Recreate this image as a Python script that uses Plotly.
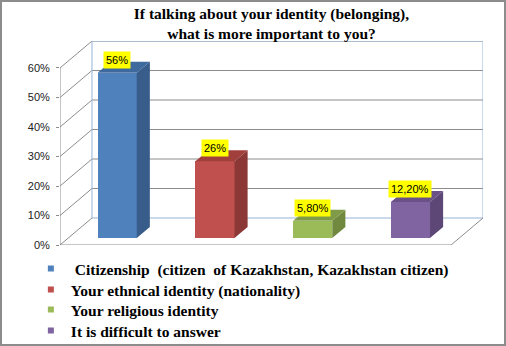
import plotly.graph_objects as go

# ---- data ----
categories = [" Citizenship  (citizen  of Kazakhstan, Kazakhstan citizen)",
              "Your ethnical identity (nationality)",
              "Your religious identity",
              "It is difficult to answer"]
values = [56.0, 26.0, 5.8, 12.2]
value_labels = ["56%", "26%", "5,80%", "12,20%"]
tick_values = [0, 10, 20, 30, 40, 50, 60]
tick_labels = ["0%", "10%", "20%", "30%", "40%", "50%", "60%"]

front_colors = ["#4F81BD", "#C0504D", "#9BBB59", "#8064A2"]
side_colors = ["#385D8A", "#8C3836", "#71893F", "#5C4776"]
top_colors = ["#3F6A9E", "#A13F3C", "#809B48", "#6A5187"]

# ---- pseudo-3D projection settings ----
W, H = 506, 346
ML, MR, MT, MB = 60, 23, 41, 101
DX = 0.327        # depth offset in category units
DY = 9.15         # depth offset in percent units
F0, F1 = 0.26, 0.67   # bar front / back depth fractions
BW = 0.40
YMAX = 60

def proj(x, v, d):
    return x + d * DX, v + d * DY

fig = go.Figure()

shapes = []
grid_col = "#8C8C8C"
wall_col = "#95B3D7"
x_left, x_right = -0.5, len(categories) - 0.5

def line(p0, p1, color, width=1):
    shapes.append(dict(type="line", xref="x", yref="y", x0=p0[0], y0=p0[1],
                       x1=p1[0], y1=p1[1], line=dict(color=color, width=width),
                       layer="below"))

# back wall gridlines and oblique lines
for v in tick_values:
    a = proj(x_left, v, 0)
    b = proj(x_left, v, 1)
    c = proj(x_right, v, 1)
    line(a, b, grid_col)
    if v > 0:
        line(b, c, grid_col)
# back wall frame
line(proj(x_left, 0, 1), proj(x_right, 0, 1), wall_col)
line(proj(x_left, 0, 1), proj(x_left, YMAX, 1), wall_col)
line(proj(x_right, 0, 1), proj(x_right, YMAX, 1), wall_col)
line(proj(x_left, YMAX, 1), proj(x_right, YMAX, 1), wall_col)
# front axis and floor
line(proj(x_left, 0, 0), proj(x_left, YMAX, 0), grid_col)
line(proj(x_left, 0, 0), proj(x_right, 0, 0), grid_col)
line(proj(x_right, 0, 0), proj(x_right, 0, 1), grid_col)

# front faces (bars)
bx = [i + F0 * DX for i in range(len(values))]
base = F0 * DY
fig.add_trace(go.Bar(x=bx, y=values, base=[base] * len(values), width=BW,
                     marker=dict(color=front_colors, line=dict(width=0)),
                     showlegend=False, hoverinfo="skip"))

ddx, ddy = (F1 - F0) * DX, (F1 - F0) * DY
for i, v in enumerate(values):
    xl, xr = bx[i] - BW / 2, bx[i] + BW / 2
    yb, yt = base, base + v
    # side face
    fig.add_trace(go.Scatter(x=[xr, xr + ddx, xr + ddx, xr, xr],
                             y=[yb, yb + ddy, yt + ddy, yt, yb],
                             mode="lines", fill="toself", fillcolor=side_colors[i],
                             line=dict(width=0, color=side_colors[i]),
                             showlegend=False, hoverinfo="skip"))
    # top face
    fig.add_trace(go.Scatter(x=[xl, xr, xr + ddx, xl + ddx, xl],
                             y=[yt, yt, yt + ddy, yt + ddy, yt],
                             mode="lines", fill="toself", fillcolor=top_colors[i],
                             line=dict(width=0, color=top_colors[i]),
                             showlegend=False, hoverinfo="skip"))

# legend entries: one legend box per row for exact row spacing
legend_font = dict(family="Liberation Serif, Times New Roman", size=15.5, color="#000000",
                   weight="bold")
row_tops = [252, 273, 293, 314]
legend_layout = {}
for i, name in enumerate(categories):
    lg = "legend" if i == 0 else f"legend{i + 1}"
    fig.add_trace(go.Scatter(x=[None], y=[None], mode="markers", legend=lg,
                             name=name.replace("  ", "\u00a0 "),
                             marker=dict(symbol="square", size=6, color=front_colors[i])))
    legend_layout[lg] = dict(xref="container", yref="container", x=0.061, xanchor="left",
                             y=1 - row_tops[i] / H, yanchor="top", font=legend_font,
                             itemwidth=30, tracegroupgap=0, bgcolor="rgba(0,0,0,0)")

annotations = []
for i, v in enumerate(values):
    annotations.append(dict(x=bx[i], y=base + v, xref="x", yref="y",
                            text=value_labels[i], showarrow=False,
                            yanchor="bottom", yshift=4,
                            bgcolor="#FFFF00", borderpad=2,
                            font=dict(family="Liberation Sans, Arial", size=11, color="#000000")))

# outer frame
pw, ph = W - ML - MR, H - MT - MB
shapes.append(dict(type="rect", xref="paper", yref="paper",
                   x0=-(ML - 1) / pw, x1=1 + (MR - 1) / pw,
                   y0=-(MB - 1) / ph, y1=1 + (MT - 1) / ph,
                   line=dict(color="#8C8C8C", width=2), layer="below"))

fig.update_layout(
    width=W, height=H,
    margin=dict(l=ML, r=MR, t=MT, b=MB, pad=0, autoexpand=False),
    paper_bgcolor="white", plot_bgcolor="white",
    title=dict(text="If talking about your identity (belonging),<br>what is more important to you?",
               x=0.5, xref="paper", y=0.945, yanchor="top",
               font=dict(family="Liberation Serif, Times New Roman", size=15.5, color="#000000",
                         weight="bold")),
    xaxis=dict(range=[x_left, x_right + DX], showgrid=False, zeroline=False,
               showticklabels=False, showline=False, ticks="", fixedrange=True),
    yaxis=dict(range=[0, YMAX + DY], showgrid=False, zeroline=False, showline=False,
               tickvals=tick_values, ticktext=tick_labels, ticks="outside", ticklen=3,
               tickcolor=grid_col, ticklabelstandoff=4,
               tickfont=dict(family="Liberation Sans, Arial", size=11, color="#222222")),
    shapes=shapes, annotations=annotations, bargap=0,
    **legend_layout,
)

fig.write_html("out.html")
